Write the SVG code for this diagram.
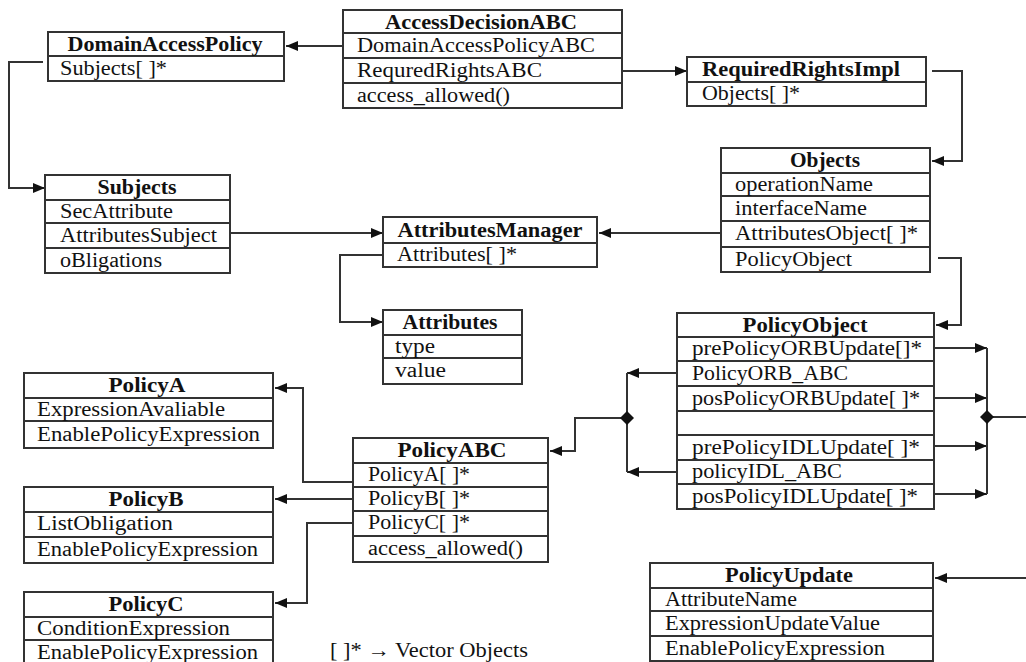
<svg xmlns="http://www.w3.org/2000/svg" width="1026" height="662" viewBox="0 0 1026 662">
<style>
.bx{fill:#fff;stroke:#333;stroke-width:2}
.dv{stroke:#333;stroke-width:2}
.t{font-family:"Liberation Serif","Times New Roman",serif;font-size:20px;fill:#111}
.b{font-weight:bold}
.c{text-anchor:middle}
.cn{fill:none;stroke:#333;stroke-width:2}
.dm{fill:#111}
</style>
<defs>
<marker id="ar" viewBox="0 0 12 10" refX="12" refY="5" markerWidth="12" markerHeight="10" markerUnits="userSpaceOnUse" orient="auto">
<path d="M0,0 L12,5 L0,10 Z" fill="#111"/>
</marker>
</defs>
<rect width="1026" height="662" fill="#fff"/>

<g id="connectors">
<path class="cn" d="M343,46 H286" marker-end="url(#ar)"/>
<path class="cn" d="M43,62 H9 V188 H45" marker-end="url(#ar)"/>
<path class="cn" d="M622,71 H687" marker-end="url(#ar)"/>
<path class="cn" d="M932,71 H962 V161 H932" marker-end="url(#ar)"/>
<path class="cn" d="M230,233 H383" marker-end="url(#ar)"/>
<path class="cn" d="M721,233 H599" marker-end="url(#ar)"/>
<path class="cn" d="M383,255 H340 V322 H383" marker-end="url(#ar)"/>
<path class="cn" d="M938,258 H961 V325 H936" marker-end="url(#ar)"/>
<path class="cn" d="M934,348 H987" marker-end="url(#ar)"/>
<path class="cn" d="M934,398 H987" marker-end="url(#ar)"/>
<path class="cn" d="M934,446 H987" marker-end="url(#ar)"/>
<path class="cn" d="M934,494 H987" marker-end="url(#ar)"/>
<path class="cn" d="M987,348 V494 M987,417 H1026"/>
<polygon class="dm" points="987,410 994,417 987,424 980,417"/>
<path class="cn" d="M677,373 H627" marker-end="url(#ar)"/>
<path class="cn" d="M677,472 H627" marker-end="url(#ar)"/>
<path class="cn" d="M627,373 V472"/>
<path class="cn" d="M627,418 H575 V451 H550" marker-end="url(#ar)"/>
<polygon class="dm" points="627,411 634,418 627,425 620,418"/>
<path class="cn" d="M353,482 H303 V388 H275" marker-end="url(#ar)"/>
<path class="cn" d="M353,499 H275" marker-end="url(#ar)"/>
<path class="cn" d="M353,523 H307 V603 H275" marker-end="url(#ar)"/>
<path class="cn" d="M1026,578 H935" marker-end="url(#ar)"/>
</g>

<g id="DomainAccessPolicy">
<rect class="bx" x="48" y="32" width="236" height="49"/>
<line class="dv" x1="48" y1="56" x2="284" y2="56"/>
<text class="t b c" x="165" y="51" textLength="195" lengthAdjust="spacingAndGlyphs">DomainAccessPolicy</text>
<text class="t" x="60" y="75" textLength="107" lengthAdjust="spacingAndGlyphs">Subjects[ ]*</text>
</g>

<g id="AccessDecisionABC">
<rect class="bx" x="343" y="10" width="279" height="98"/>
<line class="dv" x1="343" y1="33" x2="622" y2="33"/>
<line class="dv" x1="343" y1="58" x2="622" y2="58"/>
<line class="dv" x1="343" y1="83" x2="622" y2="83"/>
<text class="t b c" x="481" y="29" textLength="192" lengthAdjust="spacingAndGlyphs">AccessDecisionABC</text>
<text class="t" x="357" y="52" textLength="238" lengthAdjust="spacingAndGlyphs">DomainAccessPolicyABC</text>
<text class="t" x="357" y="77" textLength="185" lengthAdjust="spacingAndGlyphs">RequredRightsABC</text>
<text class="t" x="357" y="102" textLength="153" lengthAdjust="spacingAndGlyphs">access_allowed()</text>
</g>

<g id="RequiredRightsImpl">
<rect class="bx" x="687" y="57" width="239" height="49"/>
<line class="dv" x1="687" y1="82" x2="926" y2="82"/>
<text class="t b c" x="801" y="76" textLength="198" lengthAdjust="spacingAndGlyphs">RequiredRightsImpl</text>
<text class="t" x="702" y="100" textLength="98" lengthAdjust="spacingAndGlyphs">Objects[ ]*</text>
</g>

<g id="Objects">
<rect class="bx" x="721" y="148" width="209" height="124"/>
<line class="dv" x1="721" y1="173" x2="930" y2="173"/>
<line class="dv" x1="721" y1="196" x2="930" y2="196"/>
<line class="dv" x1="721" y1="221" x2="930" y2="221"/>
<line class="dv" x1="721" y1="247" x2="930" y2="247"/>
<text class="t b c" x="825" y="167" textLength="70" lengthAdjust="spacingAndGlyphs">Objects</text>
<text class="t" x="735" y="191" textLength="138" lengthAdjust="spacingAndGlyphs">operationName</text>
<text class="t" x="735" y="215" textLength="132" lengthAdjust="spacingAndGlyphs">interfaceName</text>
<text class="t" x="735" y="240" textLength="183" lengthAdjust="spacingAndGlyphs">AttributesObject[ ]*</text>
<text class="t" x="735" y="266" textLength="117" lengthAdjust="spacingAndGlyphs">PolicyObject</text>
</g>

<g id="Subjects">
<rect class="bx" x="45" y="175" width="185" height="98"/>
<line class="dv" x1="45" y1="200" x2="230" y2="200"/>
<line class="dv" x1="45" y1="223" x2="230" y2="223"/>
<line class="dv" x1="45" y1="248" x2="230" y2="248"/>
<text class="t b c" x="137" y="194" textLength="79" lengthAdjust="spacingAndGlyphs">Subjects</text>
<text class="t" x="60" y="218" textLength="113" lengthAdjust="spacingAndGlyphs">SecAttribute</text>
<text class="t" x="60" y="242" textLength="157" lengthAdjust="spacingAndGlyphs">AttributesSubject</text>
<text class="t" x="60" y="267" textLength="102" lengthAdjust="spacingAndGlyphs">oBligations</text>
</g>

<g id="AttributesManager">
<rect class="bx" x="383" y="217" width="214" height="50"/>
<line class="dv" x1="383" y1="243" x2="597" y2="243"/>
<text class="t b c" x="490" y="237" textLength="185" lengthAdjust="spacingAndGlyphs">AttributesManager</text>
<text class="t" x="397" y="261" textLength="120" lengthAdjust="spacingAndGlyphs">Attributes[ ]*</text>
</g>

<g id="Attributes">
<rect class="bx" x="383" y="310" width="139" height="74"/>
<line class="dv" x1="383" y1="335" x2="522" y2="335"/>
<line class="dv" x1="383" y1="358" x2="522" y2="358"/>
<text class="t b c" x="450" y="329" textLength="95" lengthAdjust="spacingAndGlyphs">Attributes</text>
<text class="t" x="395" y="353" textLength="40" lengthAdjust="spacingAndGlyphs">type</text>
<text class="t" x="395" y="377" textLength="51" lengthAdjust="spacingAndGlyphs">value</text>
</g>

<g id="PolicyObject">
<rect class="bx" x="677" y="313" width="257" height="196"/>
<line class="dv" x1="677" y1="337" x2="934" y2="337"/>
<line class="dv" x1="677" y1="361" x2="934" y2="361"/>
<line class="dv" x1="677" y1="386" x2="934" y2="386"/>
<line class="dv" x1="677" y1="411" x2="934" y2="411"/>
<line class="dv" x1="677" y1="435" x2="934" y2="435"/>
<line class="dv" x1="677" y1="460" x2="934" y2="460"/>
<line class="dv" x1="677" y1="484" x2="934" y2="484"/>
<text class="t b c" x="805" y="332" textLength="125" lengthAdjust="spacingAndGlyphs">PolicyObject</text>
<text class="t" x="692" y="355" textLength="230" lengthAdjust="spacingAndGlyphs">prePolicyORBUpdate[]*</text>
<text class="t" x="692" y="380" textLength="156" lengthAdjust="spacingAndGlyphs">PolicyORB_ABC</text>
<text class="t" x="692" y="405" textLength="228" lengthAdjust="spacingAndGlyphs">posPolicyORBUpdate[ ]*</text>
<text class="t" x="692" y="454" textLength="228" lengthAdjust="spacingAndGlyphs">prePolicyIDLUpdate[ ]*</text>
<text class="t" x="692" y="478" textLength="150" lengthAdjust="spacingAndGlyphs">policyIDL_ABC</text>
<text class="t" x="692" y="503" textLength="226" lengthAdjust="spacingAndGlyphs">posPolicyIDLUpdate[ ]*</text>
</g>

<g id="PolicyA">
<rect class="bx" x="24" y="373" width="249" height="75"/>
<line class="dv" x1="24" y1="398" x2="273" y2="398"/>
<line class="dv" x1="24" y1="421" x2="273" y2="421"/>
<text class="t b c" x="147" y="392" textLength="77" lengthAdjust="spacingAndGlyphs">PolicyA</text>
<text class="t" x="37" y="416" textLength="188" lengthAdjust="spacingAndGlyphs">ExpressionAvaliable</text>
<text class="t" x="37" y="441" textLength="223" lengthAdjust="spacingAndGlyphs">EnablePolicyExpression</text>
</g>

<g id="PolicyB">
<rect class="bx" x="24" y="487" width="249" height="76"/>
<line class="dv" x1="24" y1="512" x2="273" y2="512"/>
<line class="dv" x1="24" y1="537" x2="273" y2="537"/>
<text class="t b c" x="146" y="506" textLength="75" lengthAdjust="spacingAndGlyphs">PolicyB</text>
<text class="t" x="37" y="530" textLength="136" lengthAdjust="spacingAndGlyphs">ListObligation</text>
<text class="t" x="37" y="556" textLength="221" lengthAdjust="spacingAndGlyphs">EnablePolicyExpression</text>
</g>

<g id="PolicyC">
<rect class="bx" x="24" y="592" width="249" height="76"/>
<line class="dv" x1="24" y1="617" x2="273" y2="617"/>
<line class="dv" x1="24" y1="640" x2="273" y2="640"/>
<text class="t b c" x="146" y="611" textLength="75" lengthAdjust="spacingAndGlyphs">PolicyC</text>
<text class="t" x="37" y="635" textLength="193" lengthAdjust="spacingAndGlyphs">ConditionExpression</text>
<text class="t" x="37" y="659" textLength="221" lengthAdjust="spacingAndGlyphs">EnablePolicyExpression</text>
</g>

<g id="PolicyABC">
<rect class="bx" x="353" y="438" width="195" height="124"/>
<line class="dv" x1="353" y1="463" x2="548" y2="463"/>
<line class="dv" x1="353" y1="487" x2="548" y2="487"/>
<line class="dv" x1="353" y1="511" x2="548" y2="511"/>
<line class="dv" x1="353" y1="536" x2="548" y2="536"/>
<text class="t b c" x="452" y="457" textLength="109" lengthAdjust="spacingAndGlyphs">PolicyABC</text>
<text class="t" x="368" y="481" textLength="102" lengthAdjust="spacingAndGlyphs">PolicyA[ ]*</text>
<text class="t" x="368" y="505" textLength="102" lengthAdjust="spacingAndGlyphs">PolicyB[ ]*</text>
<text class="t" x="368" y="529" textLength="102" lengthAdjust="spacingAndGlyphs">PolicyC[ ]*</text>
<text class="t" x="368" y="555" textLength="155" lengthAdjust="spacingAndGlyphs">access_allowed()</text>
</g>

<g id="PolicyUpdate">
<rect class="bx" x="650" y="563" width="283" height="98"/>
<line class="dv" x1="650" y1="588" x2="933" y2="588"/>
<line class="dv" x1="650" y1="611" x2="933" y2="611"/>
<line class="dv" x1="650" y1="636" x2="933" y2="636"/>
<text class="t b c" x="789" y="582" textLength="128" lengthAdjust="spacingAndGlyphs">PolicyUpdate</text>
<text class="t" x="665" y="606" textLength="132" lengthAdjust="spacingAndGlyphs">AttributeName</text>
<text class="t" x="665" y="630" textLength="215" lengthAdjust="spacingAndGlyphs">ExpressionUpdateValue</text>
<text class="t" x="665" y="655" textLength="220" lengthAdjust="spacingAndGlyphs">EnablePolicyExpression</text>
</g>

<g id="legend">
<text class="t" x="330" y="657" textLength="198" lengthAdjust="spacingAndGlyphs">[ ]* → Vector Objects</text>
</g>
</svg>
